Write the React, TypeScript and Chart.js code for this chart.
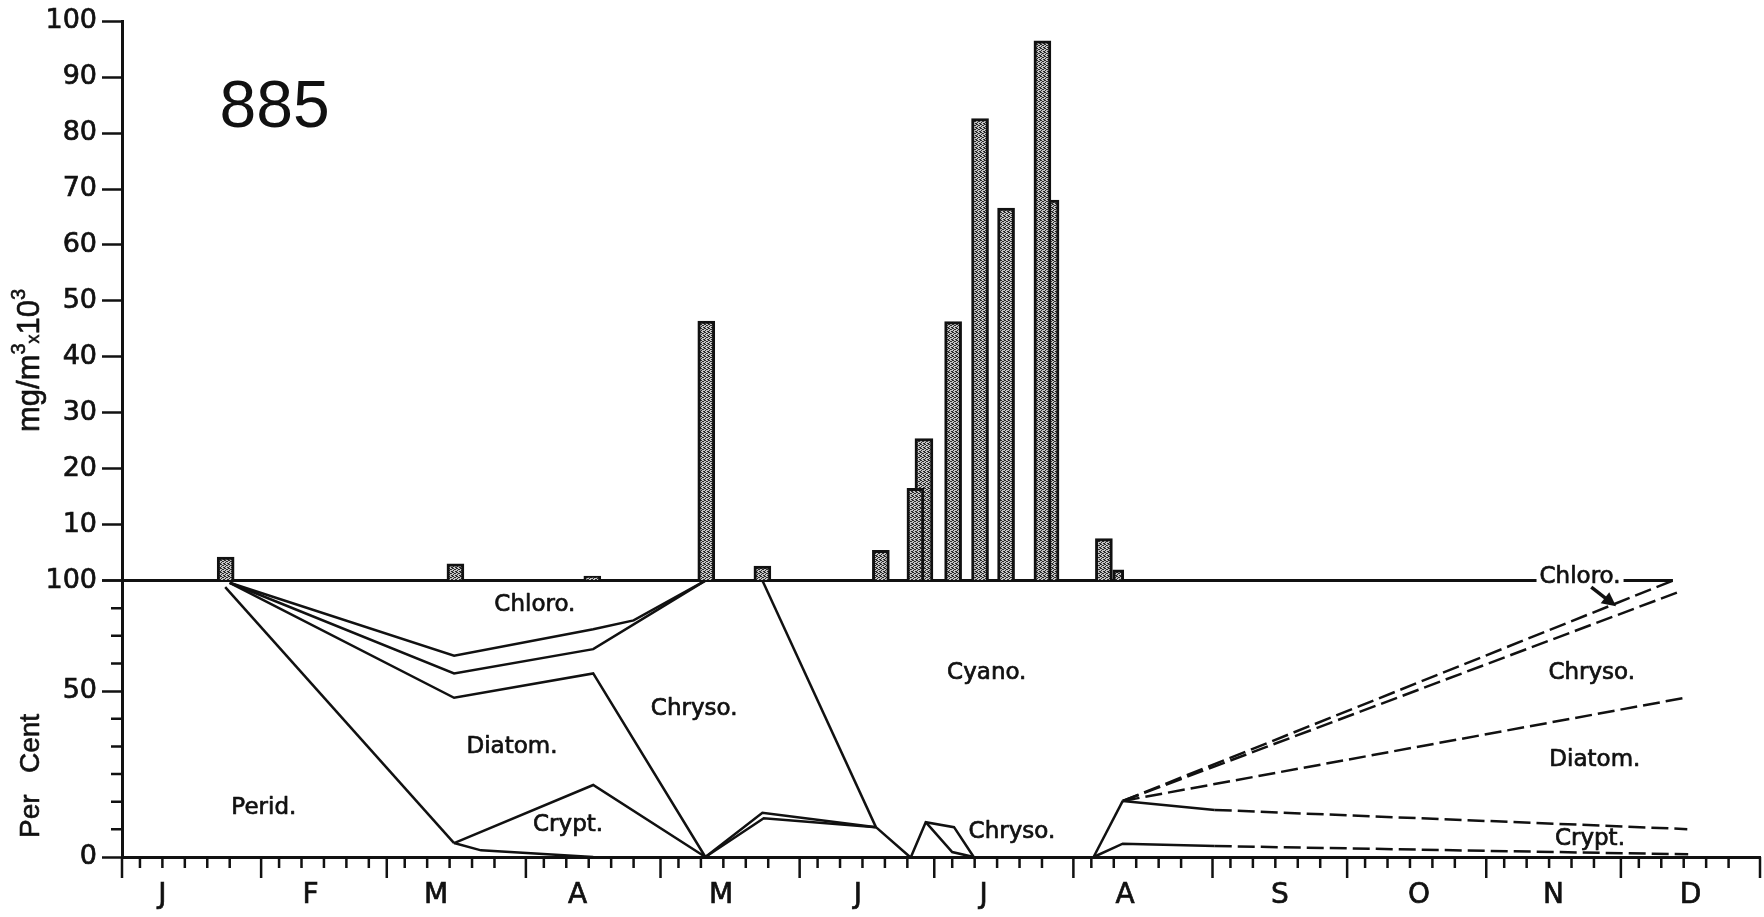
import React, { useEffect, useRef } from 'react';
import { Chart, registerables, LinearScale } from 'chart.js';

Chart.register(...registerables);

// Per-cent axis of the lower panel: the printed "50" sits at 60 % of the axis height.
class PieceScale extends LinearScale {
  static id = 'piece';
  getPixelForValue(value: any) {
    if (value === null || value === undefined || Number.isNaN(+value)) return NaN;
    const v = +value;
    const t = v <= 50 ? (v / 50) * 0.6 : 0.6 + ((v - 50) / 50) * 0.4;
    return this.getPixelForDecimal(t);
  }
  getValueForPixel(pixel: number) {
    const t = this.getDecimalForPixel(pixel);
    return t <= 0.6 ? (t / 0.6) * 50 : 50 + ((t - 0.6) / 0.4) * 50;
  }
}
Chart.register(PieceScale);

// ---------------- axis data ----------------
const monthLetters = ['J', 'F', 'M', 'A', 'M', 'J', 'J', 'A', 'S', 'O', 'N', 'D'];
const monthLabelDays = [9, 42, 70, 101.5, 133.5, 164, 192, 223.5, 258, 289, 319, 349.5];
const monthStartDays = [0, 31, 59, 90, 120, 151, 181, 212, 243, 273, 304, 334, 365];
const minorTickOffsets = [4, 9, 14, 19, 24];
const biomassTicks = [0, 10, 20, 30, 40, 50, 60, 70, 80, 90, 100];
const percentTicks = [0, 50, 100];
const stationLabel = '885';

// ---------------- biomass bars (mg/m3 x 10^3) ----------------
const barDays = [23.1, 74.3, 104.8, 130.2, 142.7, 169.1, 176.8, 185.2, 191.2, 197.0, 205.1, 218.8];
const barValues = [4.2, 3.0, 0.8, 46.4, 2.6, 5.4, 16.5, 46.3, 82.6, 66.6, 96.5, 7.5];
const backBarDays = [178.7, 206.8];
const backBarValues = [25.4, 68.0];
const narrowBarDays = [222.0];
const narrowBarValues = [1.9];

// ---------------- composition boundaries (day of year, per cent) ----------------
const chloroEdgeDays = [24, 74, 105, 114, 130];
const chloroEdgePct = [99, 66, 78, 82, 100];
const springEdgeDays = [24, 74, 105, 130];
const springEdgePct = [99, 58, 69, 100];
const diatomTopDays = [24, 74, 105, 130];
const diatomTopPct = [99, 48, 58, 0];
const peridTopDays = [23, 74];
const peridTopPct = [97, 4.2];
const cryptTopDays = [74, 105, 130];
const cryptTopPct = [4.2, 21.7, 0];
const peridLowDays = [74, 80, 105];
const peridLowPct = [4.2, 2, 0];
const mayUpperDays = [130, 142.7, 168, 175.6];
const mayUpperPct = [0, 13.3, 9, 0];
const mayLowerDays = [130, 143, 168];
const mayLowerPct = [0, 11.7, 9];
const cyanoEdgeDays = [142.7, 168];
const cyanoEdgePct = [100, 9];
const julyUpperDays = [175.8, 179.1, 185.4, 189.8];
const julyUpperPct = [0, 10.5, 9, 0];
const julyLowerDays = [179.1, 185, 189.8];
const julyLowerPct = [10.5, 1.5, 0];
const augRiseDays = [216.5, 223];
const augRisePct = [0, 16.9];
const cryptLowDays = [216.5, 223, 243.5, 349];
const cryptLowPct = [0, 4, 3.3, 0.8];
const autumnCryptTopDays = [223, 243.5, 348.8];
const autumnCryptTopPct = [16.9, 14.2, 8.4];
const autumnDiatomTopDays = [223, 348.3];
const autumnDiatomTopPct = [16.9, 48];
const autumnChrysoTopDays = [223, 347.6];
const autumnChrysoTopPct = [16.9, 95.4];
const autumnChloroDays = [223, 345.6];
const autumnChloroPct = [16.9, 100];
const baselineDays = [0, 345.6];
const baselinePct = [100, 100];

// ---------------- region labels (anchored in data coordinates) ----------------
const regionLabels = ['Chloro.', 'Diatom.', 'Perid.', 'Crypt.', 'Chryso.', 'Cyano.', 'Chryso.', 'Chryso.', 'Diatom.', 'Crypt.'];
const regionLabelDays = [92.0, 86.9, 31.6, 99.4, 127.5, 192.7, 198.3, 327.5, 328.2, 327.1];
const regionLabelPct = [88.9, 33.1, 14.8, 9.6, 44.6, 58.1, 7.5, 58.1, 29.2, 5.4];
const sideLabel = 'Chloro.';
const sideLabelDay = 324.9;
const sideLabelPct = 101.5;
const arrowDays = [327.4, 332.4];
const arrowPct = [97, 89.2];

const INK = '#111';

function pts(days: number[], vals: number[]) {
  return days.map((d, i) => ({ x: d, y: vals[i] }));
}

function boundary(days: number[], vals: number[], opts: any = {}) {
  const solidSegs = opts.solidSegs ?? 99;
  return {
    type: 'line',
    data: pts(days, vals),
    xAxisID: 'x',
    yAxisID: 'yPct',
    borderColor: INK,
    borderWidth: opts.width ?? 2.5,
    borderDash: [],
    pointRadius: 0,
    fill: false,
    tension: 0,
    clip: false,
    segment: {
      borderDash: (c: any) => (c.p0DataIndex >= solidSegs ? [17, 6] : undefined),
    },
  };
}

function makePattern(ctx: CanvasRenderingContext2D) {
  const c = document.createElement('canvas');
  c.width = 4;
  c.height = 4;
  const g = c.getContext('2d')!;
  g.fillStyle = '#c4c4c4';
  g.fillRect(0, 0, 4, 4);
  g.fillStyle = '#2a2a2a';
  [[0, 0], [2, 1], [1, 2], [3, 3], [3, 1], [1, 0], [0, 3]].forEach(([x, y]) => g.fillRect(x, y, 1, 1));
  return ctx.createPattern(c, 'repeat') as CanvasPattern;
}

function inkText(ctx: CanvasRenderingContext2D, t: string, x: number, y: number, sw = 0.7) {
  ctx.fillText(t, x, y);
  ctx.lineWidth = sw;
  ctx.strokeText(t, x, y);
}

const annotate = {
  id: 'annotate',
  afterDraw(chart: any) {
    const { ctx } = chart;
    const x = chart.scales.x;
    const yb = chart.scales.yBar;
    const yp = chart.scales.yPct;
    ctx.save();
    ctx.strokeStyle = INK;
    ctx.fillStyle = INK;
    ctx.lineCap = 'butt';
    ctx.lineJoin = 'round';

    // x-axis tick marks: month boundaries (long) and 5-day marks (short)
    const axisY = x.top;
    ctx.lineWidth = 2.5;
    ctx.beginPath();
    monthStartDays.forEach((d) => {
      const px = x.getPixelForValue(d);
      ctx.moveTo(px, axisY);
      ctx.lineTo(px, axisY + 21);
    });
    monthStartDays.slice(0, 12).forEach((d) =>
      minorTickOffsets.forEach((o) => {
        const px = x.getPixelForValue(d + o);
        ctx.moveTo(px, axisY);
        ctx.lineTo(px, axisY + 11);
      })
    );
    ctx.stroke();

    // per-cent axis minor ticks
    ctx.beginPath();
    for (let k = 1; k < 10; k++) {
      if (k === 6) continue;
      const py = yp.getPixelForDecimal(k / 10);
      ctx.moveTo(yp.right - 11, py);
      ctx.lineTo(yp.right, py);
    }
    ctx.stroke();

    // region labels
    ctx.font = '23px "DejaVu Sans"';
    ctx.textAlign = 'center';
    ctx.textBaseline = 'middle';
    regionLabels.forEach((t, i) => {
      inkText(ctx, t, x.getPixelForValue(regionLabelDays[i]), yp.getPixelForValue(regionLabelPct[i]));
    });

    // right-hand "Chloro." sitting on the 100 line
    const sx = x.getPixelForValue(sideLabelDay);
    const sy = yp.getPixelForValue(sideLabelPct);
    const w = ctx.measureText(sideLabel).width;
    ctx.fillStyle = '#fff';
    ctx.fillRect(sx - w / 2 - 3, sy - 13, w + 6, 24);
    ctx.fillStyle = INK;
    inkText(ctx, sideLabel, sx, sy);

    // arrow
    const ax0 = x.getPixelForValue(arrowDays[0]);
    const ay0 = yp.getPixelForValue(arrowPct[0]);
    const ax1 = x.getPixelForValue(arrowDays[1]);
    const ay1 = yp.getPixelForValue(arrowPct[1]);
    const ang = Math.atan2(ay1 - ay0, ax1 - ax0);
    ctx.lineWidth = 3.5;
    ctx.beginPath();
    ctx.moveTo(ax0, ay0);
    ctx.lineTo(ax1 - 6 * Math.cos(ang), ay1 - 6 * Math.sin(ang));
    ctx.stroke();
    ctx.beginPath();
    ctx.moveTo(ax1 + 3 * Math.cos(ang), ay1 + 3 * Math.sin(ang));
    ctx.lineTo(ax1 - 11 * Math.cos(ang) + 7 * Math.sin(ang), ay1 - 11 * Math.sin(ang) - 7 * Math.cos(ang));
    ctx.lineTo(ax1 - 11 * Math.cos(ang) - 7 * Math.sin(ang), ay1 - 11 * Math.sin(ang) + 7 * Math.cos(ang));
    ctx.closePath();
    ctx.fill();

    // station number
    ctx.font = '66px "Liberation Sans"';
    ctx.fillText(stationLabel, x.getPixelForValue(34), yb.getPixelForValue(84.4));

    // axis titles (rotated)
    const part = (t: string, size: number, dy: number, state: { cx: number }) => {
      ctx.font = `${size}px "Liberation Sans"`;
      inkText(ctx, t, state.cx, dy, 0.6);
      state.cx += ctx.measureText(t).width;
    };
    ctx.textAlign = 'left';
    ctx.textBaseline = 'alphabetic';
    ctx.save();
    ctx.translate(39, 432);
    ctx.rotate(-Math.PI / 2);
    const st = { cx: 0 };
    part('mg/m', 31, 0, st);
    part('3', 20, -14, st);
    part('x', 18, 0, st);
    part('10', 31, 0, st);
    part('3', 20, -14, st);
    ctx.restore();

    ctx.save();
    ctx.translate(39, 838);
    ctx.rotate(-Math.PI / 2);
    ctx.font = '28px "Liberation Sans"';
    inkText(ctx, 'Per', 0, 0, 0.6);
    inkText(ctx, 'Cent', 65, 0, 0.6);
    ctx.restore();

    ctx.restore();
  },
};

export default function App() {
  const ref = useRef<HTMLCanvasElement>(null);
  useEffect(() => {
    const canvas = ref.current!;
    const ctx = canvas.getContext('2d')!;
    const pattern = makePattern(ctx);
    const barStyle = {
      type: 'bar',
      xAxisID: 'x',
      yAxisID: 'yBar',
      backgroundColor: pattern,
      borderColor: INK,
      borderWidth: 3,
      grouped: false,
    };
    const tickFont = { family: 'DejaVu Sans', size: 27 };
    const yGrid = { display: true, drawOnChartArea: false, drawTicks: true, tickLength: 20, color: INK, tickWidth: 2.5 };
    const yBorder = { display: true, color: INK, width: 3 };
    const tickInk = { color: INK, textStrokeColor: INK, textStrokeWidth: 0.7 };

    const chart = new Chart(canvas, {
      type: 'bar',
      data: {
        datasets: [
          { ...barStyle, data: pts(barDays, barValues), barThickness: 17 },
          { ...barStyle, data: pts(backBarDays, backBarValues), barThickness: 18 },
          { ...barStyle, data: pts(narrowBarDays, narrowBarValues), barThickness: 11 },
          boundary(baselineDays, baselinePct, { width: 3 }),
          boundary(chloroEdgeDays, chloroEdgePct),
          boundary(springEdgeDays, springEdgePct),
          boundary(diatomTopDays, diatomTopPct),
          boundary(peridTopDays, peridTopPct),
          boundary(cryptTopDays, cryptTopPct),
          boundary(peridLowDays, peridLowPct),
          boundary(mayUpperDays, mayUpperPct),
          boundary(mayLowerDays, mayLowerPct),
          boundary(cyanoEdgeDays, cyanoEdgePct),
          boundary(julyUpperDays, julyUpperPct),
          boundary(julyLowerDays, julyLowerPct),
          boundary(augRiseDays, augRisePct),
          boundary(cryptLowDays, cryptLowPct, { solidSegs: 2 }),
          boundary(autumnCryptTopDays, autumnCryptTopPct, { solidSegs: 1 }),
          boundary(autumnDiatomTopDays, autumnDiatomTopPct, { solidSegs: 0 }),
          boundary(autumnChrysoTopDays, autumnChrysoTopPct, { solidSegs: 0 }),
          boundary(autumnChloroDays, autumnChloroPct, { solidSegs: 0 }),
        ] as any,
      },
      options: {
        animation: false,
        responsive: false,
        maintainAspectRatio: false,
        events: [],
        layout: { padding: { left: 0, right: 4, top: 21, bottom: 0 } },
        plugins: { legend: { display: false }, tooltip: { enabled: false }, title: { display: false } },
        scales: {
          x: {
            type: 'linear',
            position: 'bottom',
            min: 0,
            max: 365,
            offset: false,
            grid: { display: false, drawTicks: false, offset: false },
            border: { display: true, color: INK, width: 3 },
            ticks: {
              font: { family: 'DejaVu Sans', size: 28 },
              ...tickInk,
              padding: 22,
              maxRotation: 0,
              autoSkip: false,
              callback: (_v: any, i: number) => monthLetters[i] ?? '',
            },
            afterBuildTicks: (s: any) => {
              s.ticks = monthLabelDays.map((v) => ({ value: v }));
            },
            afterFit: (s: any) => {
              s.height = 60;
            },
          },
          yPct: {
            type: 'piece',
            position: 'left',
            stack: 'panels',
            stackWeight: 276.5,
            min: 0,
            max: 100,
            grid: yGrid,
            border: yBorder,
            ticks: { font: tickFont, ...tickInk, padding: 5, autoSkip: false, callback: (v: any) => String(v) },
            afterBuildTicks: (s: any) => {
              s.ticks = percentTicks.map((v) => ({ value: v }));
            },
            afterFit: (s: any) => {
              s.width = 122;
            },
          },
          yBar: {
            type: 'linear',
            position: 'left',
            stack: 'panels',
            stackWeight: 559.5,
            min: 0,
            max: 100,
            grid: yGrid,
            border: yBorder,
            ticks: { font: tickFont, ...tickInk, padding: 5, autoSkip: false, callback: (v: any) => (v === 0 ? '' : String(v)) },
            afterBuildTicks: (s: any) => {
              s.ticks = biomassTicks.map((v) => ({ value: v }));
            },
            afterFit: (s: any) => {
              s.width = 122;
            },
          },
        } as any,
      },
      plugins: [annotate],
    } as any);
    return () => chart.destroy();
  }, []);
  return (
    <div style={{ position: 'fixed', left: 0, top: 0, width: 1764, height: 917, background: '#fff' }}>
      <canvas ref={ref} width={1764} height={917} style={{ display: 'block', width: 1764, height: 917 }} />
    </div>
  );
}
